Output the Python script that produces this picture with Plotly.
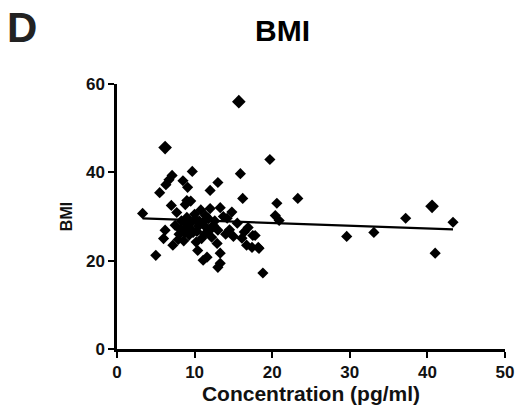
import numpy as np
import plotly.graph_objects as go

# Concentration (pg/ml) and BMI values
concentration = [
    15.7, 6.2, 3.3, 5.0, 5.5, 6.3, 7.1, 6.7, 9.7, 8.5, 9.1, 9.0, 8.8,
    12.0, 13.0, 15.9, 16.2, 19.7, 20.6, 23.3, 20.4, 20.9, 17.8, 18.3, 17.4, 18.8,
    29.6, 33.1, 37.2, 40.6, 41.0, 43.3,
    6.2, 6.0, 7.2, 7.7, 7.5, 8.0, 8.3, 8.6, 8.8, 9.0, 9.3, 9.5, 9.8, 10.0,
    10.2, 10.4, 10.5, 10.8, 11.1, 11.1, 11.3, 11.6, 11.8, 12.0, 12.2, 12.4,
    12.9, 13.0, 13.3, 13.3, 13.3, 13.0, 13.7, 14.2, 14.5, 15.0, 15.5, 16.1,
    16.7, 16.9, 17.5, 18.2, 7.0, 9.5, 8.2, 10.6, 11.5, 14.8,
    8.7, 9.6, 10.9, 11.9, 7.9, 10.1, 9.2, 10.3, 11.4, 12.6, 14.0, 16.4,
]
bmi = [
    56.0, 45.6, 30.7, 21.2, 35.4, 37.2, 39.3, 38.3, 40.2, 38.1, 36.6, 33.6, 32.7,
    35.9, 37.7, 39.7, 34.1, 42.9, 33.0, 34.1, 30.2, 29.1, 25.7, 22.8, 23.0, 17.2,
    25.5, 26.4, 29.6, 32.3, 21.7, 28.7,
    26.9, 25.0, 23.5, 30.9, 28.0, 26.0, 29.0, 24.5, 27.5, 29.8, 25.8, 28.5, 26.4, 30.5,
    24.2, 22.3, 27.8, 31.5, 28.7, 20.1, 26.0, 20.8, 29.5, 31.8, 25.3, 28.0,
    23.9, 26.9, 32.0, 21.7, 19.4, 18.5, 30.0, 29.6, 27.0, 25.5, 28.5, 25.1,
    23.5, 27.5, 25.7, 23.0, 32.5, 33.5, 27.0, 29.0, 27.5, 31.0,
    26.2, 27.0, 25.0, 26.8, 24.8, 29.3, 28.2, 26.6, 30.2, 29.0, 26.0, 26.5,
]
big_concentration = [15.7, 6.2, 40.6]
big_bmi = [56.0, 45.6, 32.3]

# Linear fit
fit_intercept = 29.8
fit_slope = -0.063

x_ticks = [0, 10, 20, 30, 40, 50]
y_ticks = [0, 20, 40, 60]

fx = np.array([min(concentration), max(concentration)])
fy = fit_intercept + fit_slope * fx

font_family = "Arial, Liberation Sans, sans-serif"

fig = go.Figure()
fig.add_trace(go.Scatter(
    x=fx, y=fy, mode="lines",
    line=dict(color="black", width=2.2), hoverinfo="skip", showlegend=False,
))
fig.add_trace(go.Scatter(
    x=concentration, y=bmi, mode="markers",
    marker=dict(symbol="diamond", size=8.6, color="black", line=dict(width=0)),
    showlegend=False, cliponaxis=False,
))
fig.add_trace(go.Scatter(
    x=big_concentration, y=big_bmi, mode="markers",
    marker=dict(symbol="diamond", size=10.5, color="black", line=dict(width=0)),
    showlegend=False, cliponaxis=False,
))

fig.update_layout(
    width=516, height=412,
    margin=dict(l=117, r=11, t=84, b=63, autoexpand=False),
    paper_bgcolor="white", plot_bgcolor="white",
    font=dict(family=font_family, color="black"),
    xaxis=dict(
        range=[0, 50], tickvals=x_ticks, ticktext=["<b>%d</b>" % v for v in x_ticks],
        showgrid=False, zeroline=False, showline=True, linecolor="black", linewidth=2.5,
        ticks="outside", ticklen=6, tickwidth=2, tickcolor="black", automargin=False,
        tickfont=dict(size=17, family=font_family, color="#111"),
        title=dict(text="<b>Concentration (pg/ml)</b>", standoff=4,
                   font=dict(size=21, family=font_family, color="#111")),
    ),
    yaxis=dict(
        range=[0, 60], tickvals=y_ticks, ticktext=["<b>%d</b>" % v for v in y_ticks],
        showgrid=False, zeroline=False, showline=True, linecolor="black", linewidth=2.5,
        ticks="outside", ticklen=6, tickwidth=2, tickcolor="black", automargin=False,
        tickfont=dict(size=17, family=font_family, color="#111"),
        title=dict(text="<b>BMI</b>", standoff=10,
                   font=dict(size=16, family=font_family, color="#111")),
    ),
    annotations=[
        dict(text="<b>BMI</b>", xref="paper", yref="paper", x=(282 - 117) / 388,
             y=(349 - 30) / 265, xanchor="center", yanchor="middle", showarrow=False,
             font=dict(size=30, family=font_family, color="black")),
        dict(text="<b>D</b>", xref="paper", yref="paper", x=(5 - 117) / 388,
             y=(349 - 27) / 265, xanchor="left", yanchor="middle", showarrow=False,
             font=dict(size=42, family=font_family, color="#222")),
    ],
)

fig.write_html(
    "out.html",
    config={"displayModeBar": False},
    post_script="document.body.style.margin='0';document.body.style.padding='0';",
)
